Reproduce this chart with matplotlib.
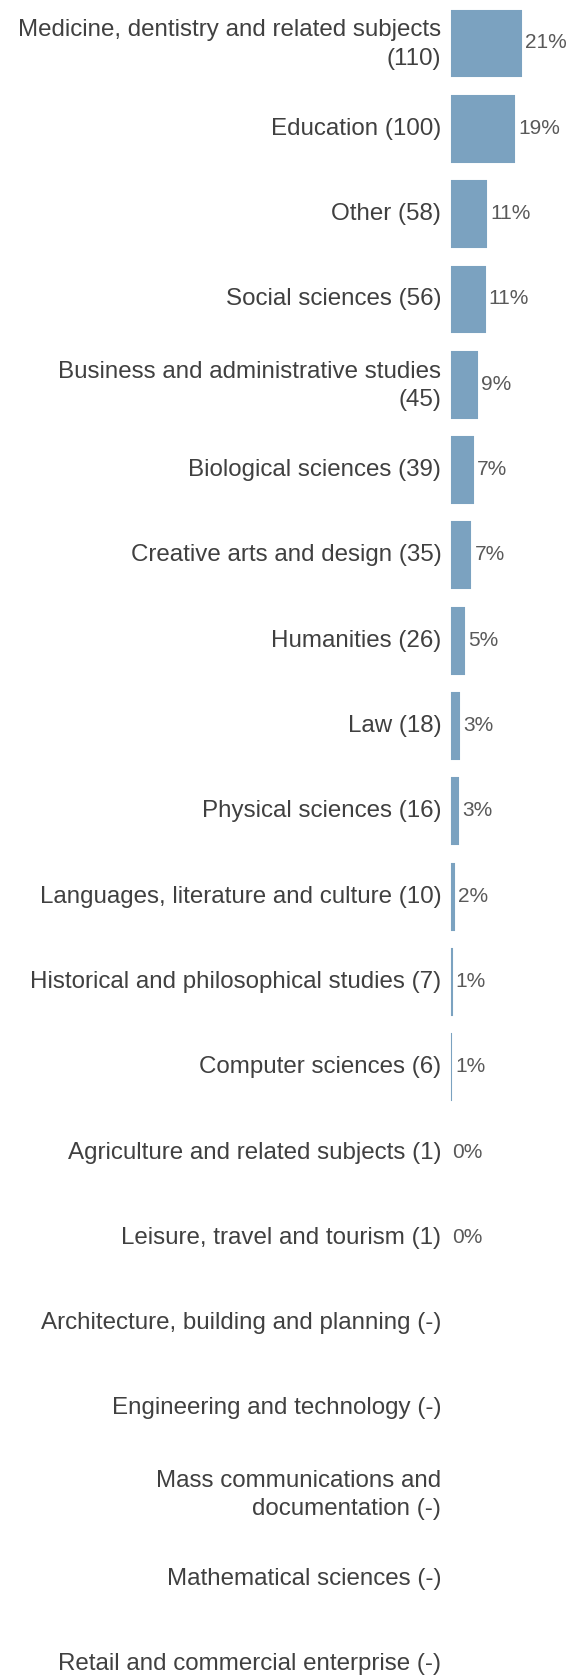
import matplotlib.pyplot as plt
from matplotlib.transforms import ScaledTranslation

# Subject areas, head counts and share of total
subjects = [
    "Medicine, dentistry and related subjects\n(110)",
    "Education (100)",
    "Other (58)",
    "Social sciences (56)",
    "Business and administrative studies\n(45)",
    "Biological sciences (39)",
    "Creative arts and design (35)",
    "Humanities (26)",
    "Law (18)",
    "Physical sciences (16)",
    "Languages, literature and culture (10)",
    "Historical and philosophical studies (7)",
    "Computer sciences (6)",
    "Agriculture and related subjects (1)",
    "Leisure, travel and tourism (1)",
    "Architecture, building and planning (-)",
    "Engineering and technology (-)",
    "Mass communications and\ndocumentation (-)",
    "Mathematical sciences (-)",
    "Retail and commercial enterprise (-)",
]
counts = [110, 100, 58, 56, 45, 39, 35, 26, 18, 16, 10, 7, 6, 1, 1, 0, 0, 0, 0, 0]
percents = ["21%", "19%", "11%", "11%", "9%", "7%", "7%", "5%", "3%", "3%",
            "2%", "1%", "1%", "0%", "0%", None, None, None, None, None]

plt.rcParams['font.family'] = ['Liberation Sans', 'DejaVu Sans']

fig = plt.figure(figsize=(5.69, 16.79), dpi=100)
ax = fig.add_axes([449 / 569, 0, 1 - 449 / 569, 1])

pos = list(range(len(subjects)))
ax.barh(pos, counts, height=0.83, color="#7ba2c0", edgecolor="white", linewidth=2.1)

for y, c, p in zip(pos, counts, percents):
    if p is None:
        continue
    ax.annotate(p, (c, y), xytext=(1.5, 0), textcoords="offset points",
                va="center", ha="left", fontsize=15, color="#595959")

ax.set_yticks(pos)
ax.set_yticklabels(subjects, fontsize=17.4, color="#404040", linespacing=1.38)
ax.tick_params(axis="y", length=0, pad=5.5)
ax.set_xticks([])

# nudge the category labels up a touch
up = ScaledTranslation(0, 1.5 / 72, fig.dpi_scale_trans)
for lbl in ax.get_yticklabels():
    lbl.set_transform(lbl.get_transform() + up)
    if "\n" in lbl.get_text():
        lbl.set_transform(lbl.get_transform() + ScaledTranslation(0, 1.5 / 72, fig.dpi_scale_trans))

ax.set_xlim(0, 179)
ax.set_ylim(19 + 0.176, -0.504)

for s in ax.spines.values():
    s.set_visible(False)

fig.savefig("out.png", dpi=100)
